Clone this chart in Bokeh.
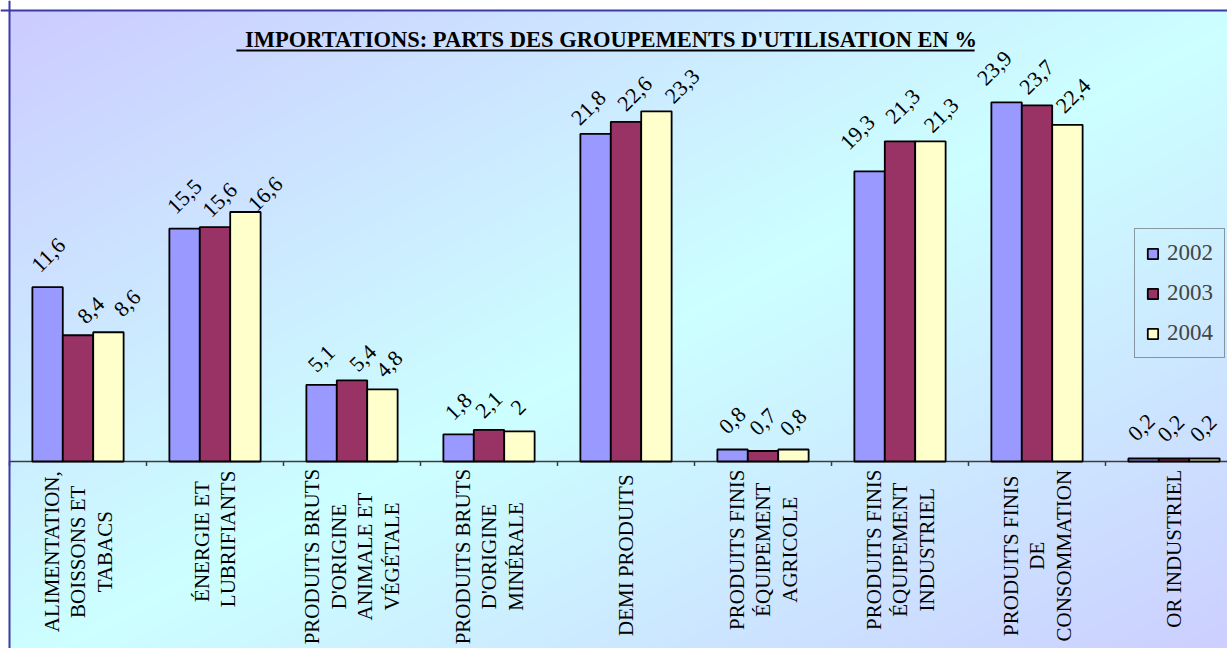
import numpy as np
from math import pi
from bokeh.plotting import figure
from bokeh.models import Range1d, Span, Legend, LegendItem
from bokeh.core.properties import value
from bokeh.embed import file_html
from bokeh.resources import INLINE

# ---------------- data ----------------
title_text = "IMPORTATIONS: PARTS DES GROUPEMENTS D'UTILISATION EN %"
categories = [
    ["ALIMENTATION,", "BOISSONS ET", "TABACS"],
    ["ÉNERGIE  ET", "LUBRIFIANTS"],
    ["PRODUITS BRUTS", "D'ORIGINE", "ANIMALE ET", "VÉGÉTALE"],
    ["PRODUITS BRUTS", "D'ORIGINE", "MINÉRALE"],
    ["DEMI  PRODUITS"],
    ["PRODUITS FINIS", "ÉQUIPEMENT", "AGRICOLE"],
    ["PRODUITS FINIS", "ÉQUIPEMENT", "INDUSTRIEL"],
    ["PRODUITS FINIS", "DE", "CONSOMMATION"],
    ["OR INDUSTRIEL"],
]
years = ["2002", "2003", "2004"]
v2002 = [11.6, 15.5, 5.1, 1.8, 21.8, 0.8, 19.3, 23.9, 0.2]
v2003 = [8.4, 15.6, 5.4, 2.1, 22.6, 0.7, 21.3, 23.7, 0.2]
v2004 = [8.6, 16.6, 4.8, 2.0, 23.3, 0.8, 21.3, 22.4, 0.2]
series = [v2002, v2003, v2004]

# ---------------- style ----------------
colors = ["#9999FF", "#993366", "#FFFFCC"]
# label nudges in pixels (right / up from the bar top)
label_dx = [[1, 0, 0, 0, -7, 0, -12, -12, -2],
            [13, 5, 11, 0, 9, 0, 3, 0, -3],
            [19, 20, 7, -1, 26, 0, 11, 6, -1]]
label_dy = [[32, 32, 26, 28, 26, 29, 39, 34, 31],
            [25, 27, 22, 25, 28, 29, 35, 28, 30],
            [29, 18, 25, 24, 25, 27, 26, 29, 30]]

W, H = 1227, 648
GROUP_PX = 137.0
UNIT_PX = 15.03
BASE_CY = 461.0
LEFT_CX = 9.0
TOP_CY = 10.0
BAR_W = 0.222
SERIF = "Liberation Serif"

x0 = -LEFT_CX / GROUP_PX
x1 = x0 + W / GROUP_PX
y1 = BASE_CY / UNIT_PX
y0 = y1 - H / UNIT_PX


def cx(px):
    return x0 + px / GROUP_PX


def cy(py):
    return y1 - py / UNIT_PX


W_REG = {'A': .722, 'B': .667, 'C': .667, 'D': .722, 'E': .611, 'F': .556, 'G': .722,
         'H': .722, 'I': .333, 'J': .389, 'K': .722, 'L': .611, 'M': .889, 'N': .722,
         'O': .722, 'P': .556, 'Q': .722, 'R': .667, 'S': .556, 'T': .611, 'U': .722,
         'V': .722, 'W': .944, 'X': .722, 'Y': .722, 'Z': .611, ' ': .25, ',': .25,
         "'": .18, 'É': .611, '%': .833, ':': .278}
W_BOLD = {'I': .389, 'M': .944, 'P': .611, 'O': .778, 'R': .722, 'T': .667, 'A': .722,
          'N': .722, 'S': .556, ':': .333, ' ': .25, 'D': .722, 'E': .667, 'G': .778,
          'U': .722, "'": .278, 'L': .667, '%': 1.0}


def em_width(s, table):
    return sum(table.get(c, .5) for c in s)


def fmt(v):
    return f"{v:g}".replace(".", ",")


p = figure(width=W, height=H, x_range=Range1d(x0, x1), y_range=Range1d(y0, y1),
           output_backend="svg", toolbar_location=None, title=None,
           x_axis_location=None, y_axis_location=None, min_border=0)
p.grid.visible = False
p.outline_line_color = None
p.background_fill_color = "white"
p.border_fill_color = "white"

# ---------------- gradient background ----------------
ny, nx = H // 2, W // 2
xs = (np.arange(nx) + 0.5) * W / nx
ys = (np.arange(ny) + 0.5) * H / ny
CW, CH = 1235.0, 660.0
t = ((xs[None, :] - LEFT_CX) / CW + (ys[:, None] - TOP_CY) / CH) / 2.0
w = np.clip(1.0 - np.abs(2.0 * t - 1.0), 0, 1)
img = np.empty((ny, nx), dtype=np.uint32)
view = img.view(dtype=np.uint8).reshape((ny, nx, 4))
view[..., 0] = 204
view[..., 1] = np.round(204 + 51 * w).astype(np.uint8)
view[..., 2] = 255
view[..., 3] = 255
img = np.ascontiguousarray(img[::-1])
p.image_rgba(image=[img], x=cx(LEFT_CX), y=y0, dw=x1 - cx(LEFT_CX), dh=cy(TOP_CY) - y0)

p.add_layout(Span(location=cx(LEFT_CX), dimension="height", line_color="#3a3aa8", line_width=2))
p.add_layout(Span(location=cy(TOP_CY), dimension="width", line_color="#3a3aa8", line_width=2))

# ---------------- category axis ----------------
n = len(categories)
p.segment(x0=[cx(LEFT_CX)], y0=[0], x1=[x1], y1=[0], line_color="#3c3c3c", line_width=1.5)
p.segment(x0=list(range(n + 1)), y0=[0] * (n + 1), x1=list(range(n + 1)),
          y1=[-4.5 / UNIT_PX] * (n + 1), line_color="#3c3c3c", line_width=1.5)

CAT_FONT = 21
LINE_PX = 26.5
LAB_TOP = 477.0
lx, ly, lt = [], [], []
for i, lines in enumerate(categories):
    m = len(lines)
    lmax = max(em_width(s, W_REG) for s in lines) * CAT_FONT * 0.9
    ymid = cy(LAB_TOP + lmax / 2.0)
    for j, s in enumerate(lines):
        lx.append(i + 0.5 + (j - (m - 1) / 2.0) * LINE_PX / GROUP_PX)
        ly.append(ymid)
        lt.append(s)
p.text(x=lx, y=ly, text=lt, angle=pi / 2, text_align="center", text_baseline="middle",
       text_font=value(SERIF), text_font_size=f"{CAT_FONT}px", text_color="black")

# ---------------- bars ----------------
renderers = []
for k, vals in enumerate(series):
    bx = [i + 0.5 + (k - 1) * BAR_W for i in range(n)]
    r = p.vbar(x=bx, top=vals, bottom=0, width=BAR_W, fill_color=colors[k],
               line_color="black", line_width=1.8)
    renderers.append(r)
    tx = [x + dx / GROUP_PX for x, dx in zip(bx, label_dx[k])]
    ty = [v + dy / UNIT_PX for v, dy in zip(vals, label_dy[k])]
    p.text(x=tx, y=ty, text=[fmt(v) for v in vals], angle=pi / 4, text_align="center",
           text_baseline="middle", text_font=value(SERIF), text_font_size="22px",
           text_color="black")

# ---------------- title ----------------
TITLE_FONT = 22.5
title_cx, title_mid = 610.5, 38.5
tw = em_width(title_text, W_BOLD) * TITLE_FONT * 0.98
p.text(x=[cx(title_cx)], y=[cy(title_mid)], text=[title_text], text_align="center",
       text_baseline="middle", text_font=value(SERIF), text_font_style="bold",
       text_font_size=f"{TITLE_FONT}px", text_color="black")
p.segment(x0=[cx(title_cx - tw / 2 - 12)], y0=[cy(50)],
          x1=[cx(title_cx + tw / 2 + 1)], y1=[cy(50)],
          line_color="black", line_width=2)

# ---------------- legend ----------------
legend = Legend(items=[LegendItem(label=y, renderers=[r]) for y, r in zip(years, renderers)],
                location=(1134, H - 358), padding=11, spacing=14, label_height=21,
                glyph_width=13, glyph_height=13, label_standoff=8, margin=0,
                label_text_font=SERIF, label_text_font_size="23px",
                border_line_color="#404040", border_line_width=1.5,
                background_fill_alpha=0)
p.add_layout(legend)

open("out.html", "w").write(file_html(p, INLINE))
